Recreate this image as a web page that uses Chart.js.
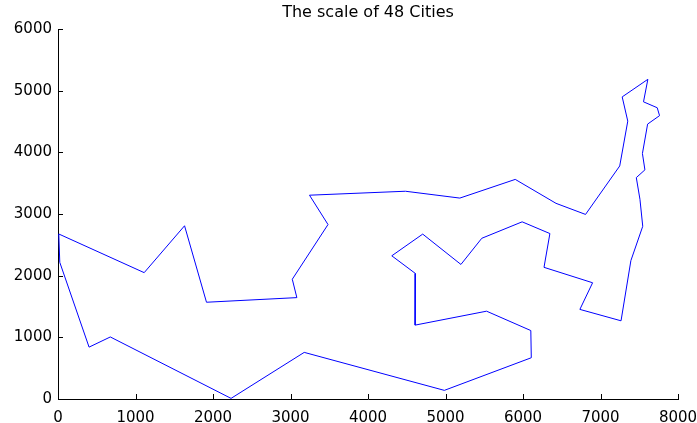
<!DOCTYPE html>
<html lang="en">
<head>
    <meta charset="UTF-8">
    <title>The scale of 48 Cities</title>
    <style>
        * { margin: 0; padding: 0; box-sizing: border-box; }
        body { background: #fff; width: 697px; height: 423px; overflow: hidden; }
        #wrap { width: 697px; height: 423px; }
    </style>
    <script src="https://cdn.jsdelivr.net/npm/chart.js"></script>
</head>
<body>
    <div id="wrap"><canvas id="tourChart"></canvas></div>

    <script>
        // tour order (closes back to the first city)
        const cityX = [10, 1112, 1633, 1916, 3082, 3023, 3484, 3245, 4483, 5185, 5900, 6426,
                       6807, 7248, 7352, 7280, 7611, 7555, 7732, 7762, 7608, 7541, 7573, 7462,
                       7509, 7545, 7392, 7265, 6734, 6898, 6271, 6347, 5989, 5468, 5199, 4706,
                       4307, 4612, 4608, 5530, 6101, 6107, 4985, 3177, 2233, 675, 401, 23];
        const cityY = [2676, 2049, 2809, 1569, 1644, 1942, 2829, 3305, 3369, 3258, 3561, 3173,
                       2993, 3779, 4506, 4899, 5184, 4819, 4723, 4595, 4458, 3981, 3716, 3590,
                       3239, 2801, 2244, 1268, 1453, 1885, 2135, 2683, 2873, 2606, 2182, 2674,
                       2322, 2035, 1198, 1424, 1110, 669, 140, 756, 10, 1006, 841, 2216];
        const xTicks = [0, 1000, 2000, 3000, 4000, 5000, 6000, 7000, 8000];
        const yTicks = [0, 1000, 2000, 3000, 4000, 5000, 6000];
        const titleText = 'The scale of 48 Cities';

        const tour = cityX.map((x, i) => ({ x: x, y: cityY[i] }));
        tour.push({ x: cityX[0], y: cityY[0] });

        const tickFont = { family: 'DejaVu Sans', size: 15 };

        // matlab style: ticks pointing into the plot, title centred over the axes
        const matlabLook = {
            id: 'matlabLook',
            afterDraw(chart) {
                const ctx = chart.ctx;
                const xs = chart.scales.x, ys = chart.scales.y;
                const area = chart.chartArea;
                ctx.save();
                ctx.strokeStyle = '#000';
                ctx.lineWidth = 1;
                ctx.beginPath();
                xTicks.forEach(v => {
                    const px = Math.round(xs.getPixelForValue(v)) + 0.5;
                    ctx.moveTo(px, area.bottom);
                    ctx.lineTo(px, area.bottom - 5);
                });
                yTicks.forEach(v => {
                    const py = Math.round(ys.getPixelForValue(v)) + 0.5;
                    ctx.moveTo(area.left, py);
                    ctx.lineTo(area.left + 5, py);
                });
                ctx.stroke();

                ctx.fillStyle = '#000';
                ctx.font = '16px "DejaVu Sans"';
                ctx.textAlign = 'center';
                ctx.textBaseline = 'middle';
                ctx.fillText(titleText, (area.left + area.right) / 2, 13);
                ctx.restore();
            }
        };

        new Chart(document.getElementById('tourChart'), {
            type: 'scatter',
            data: {
                datasets: [{
                    data: tour,
                    showLine: true,
                    borderColor: '#0000ff',
                    borderWidth: 1,
                    pointRadius: 0,
                    tension: 0,
                    fill: false
                }]
            },
            options: {
                responsive: true,
                maintainAspectRatio: false,
                animation: false,
                layout: { padding: { top: 29, right: 19, left: 0, bottom: 0 } },
                plugins: {
                    legend: { display: false },
                    tooltip: { enabled: false },
                    title: { display: false }
                },
                scales: {
                    x: {
                        type: 'linear',
                        min: 0,
                        max: 8000,
                        grid: { display: false, drawTicks: false },
                        border: { display: true, color: '#000', width: 1 },
                        ticks: {
                            stepSize: 1000,
                            color: '#000',
                            font: tickFont,
                            padding: 10,
                            maxRotation: 0,
                            callback: v => String(v)
                        },
                        afterFit(scale) {
                            scale.height = 24;
                            scale.paddingLeft = 0;
                            scale.paddingRight = 0;
                        }
                    },
                    y: {
                        type: 'linear',
                        min: 0,
                        max: 6000,
                        grid: { display: false, drawTicks: false },
                        border: { display: true, color: '#000', width: 1 },
                        ticks: {
                            stepSize: 1000,
                            color: '#000',
                            font: tickFont,
                            padding: 6,
                            callback: v => String(v)
                        },
                        afterFit(scale) {
                            scale.width = 58;
                            scale.paddingTop = 0;
                            scale.paddingBottom = 0;
                        }
                    }
                }
            },
            plugins: [matlabLook]
        });
    </script>
</body>
</html>
